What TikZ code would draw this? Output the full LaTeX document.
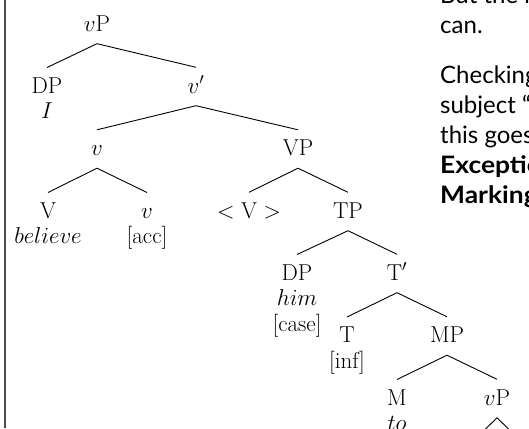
\RequirePackage{fix-cm}
\documentclass[tikz,border=0pt]{standalone}
\usepackage{fontspec}
\newfontfamily\slidefont[BoldFeatures={FakeStretch=1.1}]{Lato}
\newcommand\treesize{\fontsize{23}{25.5}\selectfont}
\newcommand\slidesize{\fontsize{24}{30}\selectfont}
% strut giving every first line of a leaf the same height
\newcommand\ct{\rule{0pt}{16pt}}
\begin{document}
\begin{tikzpicture}[x=1pt,y=-1pt,
  cat/.style={font=\treesize, inner xsep=1pt, inner ysep=9.5pt,
    text height=16pt, anchor=base},
  head/.style={cat, text depth=3pt},
  leaf/.style={font=\treesize, inner xsep=1pt, inner ysep=9.5pt,
    anchor=north, align=center},
  branch/.style={line width=0.9pt, black},
  slide/.style={font=\slidefont\slidesize, inner sep=0pt, anchor=base west},
  slidebold/.style={slide, font=\slidefont\slidesize\bfseries},
  frame rule/.style={line width=1.2pt, black!70}]
\useasboundingbox (0,0) rectangle (529,428);
\clip (0,0) rectangle (529,428);

% left border of the text column
\draw[frame rule] (5,0) -- (5,428);

% tree: heads sit on their baseline, leaves hang from their top
\node[head] (vp1)   at (97,31)    {$v$P};
\node[leaf] (dpI)   at (47,67.5)  {\ct DP\\$I$};
\node[head] (vbar)  at (196,93)   {$v'$};
\node[head] (vhead) at (97,155.5) {$v$};
\node[head] (vp)    at (298,155.5){VP};
\node[leaf] (vverb) at (48,192.5) {\ct V\\$believe$};
\node[leaf] (vacc)  at (147,192.5){\ct$v$\\{}[acc]};
\node[cat]  (vtr)   at (249,218)  {$<\mathrm{V}>$};
\node[head] (tp)    at (348,218)  {TP};
\node[leaf] (dphim) at (297,254.5){\ct DP\\$him$\\{}[case]};
\node[head] (tbar)  at (397,280)  {T$'$};
\node[leaf] (tinf)  at (347,317)  {\ct T\\{}[inf]};
\node[head] (mp)    at (447,342.5){MP};
\node[leaf] (mto)   at (397,379.5){\ct M\\$to$};
\node[head] (vp2)   at (497,405)  {$v$P};
\coordinate (vp2l) at (447,467);
\coordinate (vp2r) at (547,467);

\draw[branch] (vp1.south) -- (dpI.north);
\draw[branch] (vp1.south) -- (vbar.north);
\draw[branch] (vbar.south) -- (vhead.north);
\draw[branch] (vbar.south) -- (vp.north);
\draw[branch] (vhead.south) -- (vverb.north);
\draw[branch] (vhead.south) -- (vacc.north);
\draw[branch] (vp.south) -- (vtr.north);
\draw[branch] (vp.south) -- (tp.north);
\draw[branch] (tp.south) -- (dphim.north);
\draw[branch] (tp.south) -- (tbar.north);
\draw[branch] (tbar.south) -- (tinf.north);
\draw[branch] (tbar.south) -- (mp.north);
\draw[branch] (mp.south) -- (mto.north);
\draw[branch] (mp.south) -- (vp2.north);
\draw[branch] (vp2.south) -- (vp2l);
\draw[branch] (vp2.south) -- (vp2r);

% text column
\node[slide] (s1) at (440,4)   {But the r};
\node[slide] (s2) at (440,34)  {can.};
\node[slide] (s3) at (440,83)  {Checking};
\node[slide] (s4) at (440,113) {subject “};
\node[slide] (s5) at (440,143) {this goes};
\node[slidebold] (s6) at (440,173) {Exception};
\node[slidebold] (s7) at (440,203) {Marking};
\end{tikzpicture}
\end{document}
